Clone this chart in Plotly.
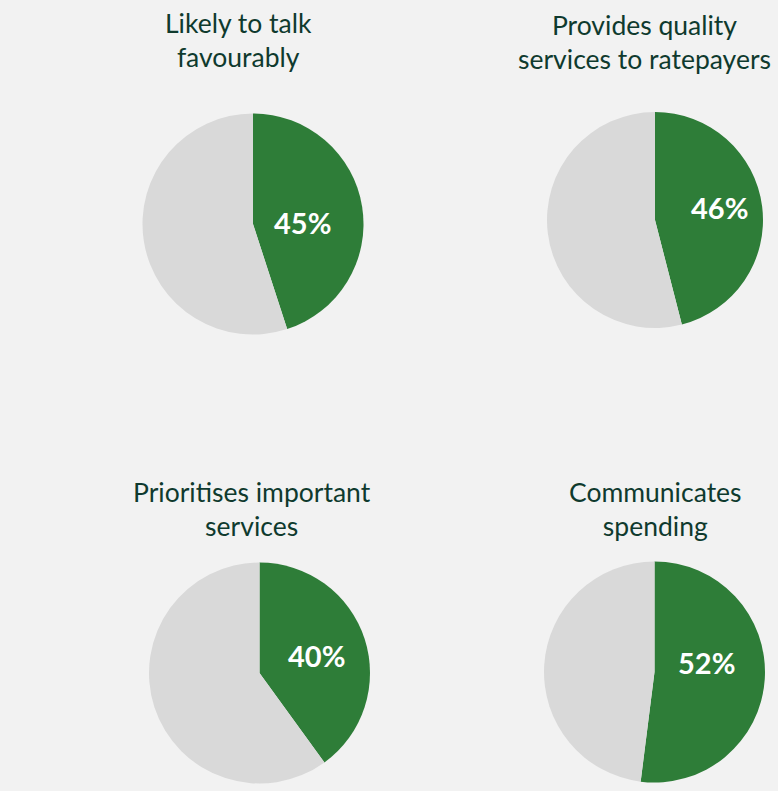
import plotly.graph_objects as go

# Survey results: share of respondents agreeing with each statement
titles = [
    "Likely to talk<br>favourably",
    "Provides quality<br>services to ratepayers",
    "Prioritises important<br>services",
    "Communicates<br>spending",
]
agree_pct = [45, 46, 40, 52]

W, H = 778, 791
GREEN = "#2e7d38"
GREY = "#d9d9d9"
BG = "#f2f2f2"
TEXT = "#0f3a2e"
FONT = "Lato"

# pie centres and radii in pixels
centres = [(253, 224), (655, 220), (259.5, 673), (654.5, 672)]
radii = [110.5, 108, 110.5, 110.5]
# percentage label offset from each pie centre, in pixels (right, down)
label_offsets = [(49, -2), (64, -12), (57, -18), (52, -10)]
# title centre x and top y in pixels
title_pos = [(238, 5), (644, 7), (251.5, 474), (655, 474)]

fig = go.Figure()
for pct, (cx, cy), r in zip(agree_pct, centres, radii):
    fig.add_trace(go.Pie(
        values=[pct, 100 - pct],
        labels=["Agree", "Other"],
        sort=False,
        direction="clockwise",
        rotation=0,
        marker=dict(colors=[GREEN, GREY], line=dict(width=0)),
        textinfo="none",
        hoverinfo="skip",
        showlegend=False,
        domain=dict(
            x=[(cx - r) / W, (cx + r) / W],
            y=[1 - (cy + r) / H, 1 - (cy - r) / H],
        ),
    ))

# value labels inside the green slices
for pct, (cx, cy), (dx, dy) in zip(agree_pct, centres, label_offsets):
    fig.add_annotation(
        text=f"<b>{pct}%</b>", x=(cx + dx) / W, y=1 - (cy + dy) / H,
        xref="paper", yref="paper", xanchor="center", yanchor="middle",
        showarrow=False,
        font=dict(family=FONT, size=29, color="white"),
    )

for t, (tx, ty) in zip(titles, title_pos):
    fig.add_annotation(
        text=t, x=tx / W, y=1 - ty / H, xref="paper", yref="paper",
        xanchor="center", yanchor="top", showarrow=False, align="center",
        font=dict(family=FONT, size=26.5, color=TEXT),
    )

fig.update_layout(
    width=W, height=H,
    margin=dict(l=0, r=0, t=0, b=0),
    paper_bgcolor=BG, plot_bgcolor=BG,
)

fig.write_html("out.html")
